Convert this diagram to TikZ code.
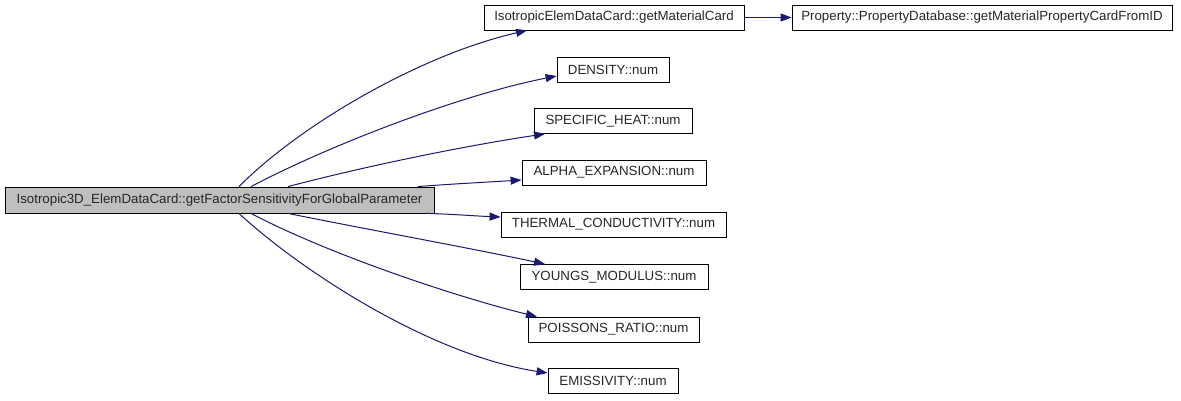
\documentclass[tikz,border=0pt]{standalone}
\usepackage{fontspec}
\setmainfont{Liberation Sans}
\usetikzlibrary{arrows.meta}
\definecolor{edgecol}{HTML}{191970}
\begin{document}
\begin{tikzpicture}[x=1pt,y=-1pt,
  box/.style={draw=black, line width=0.8pt, inner sep=0pt, minimum height=25pt, font=\fontsize{13.3}{15}\selectfont, text=black!85},
  mainbox/.style={box, fill=black!25, minimum height=26pt},
  edge/.style={draw=edgecol, line width=1pt, -{Triangle[length=11pt,width=8pt]}}]
\useasboundingbox (0,0) rectangle (1181,401);
\node[mainbox, minimum width=429pt] (main) at (219.5,200) {Isotropic3D\_ElemDataCard::getFactorSensitivityForGlobalParameter};
\node[box, minimum width=260pt] (mat) at (614,17.5) {IsotropicElemDataCard::getMaterialCard};
\node[box, minimum width=380pt] (prop) at (982,17.5) {Property::PropertyDatabase::getMaterialPropertyCardFromID};
\node[box, minimum width=112pt] (dens) at (613,69.5) {DENSITY::num};
\node[box, minimum width=158pt] (spec) at (613,121) {SPECIFIC\_HEAT::num};
\node[box, minimum width=184pt] (alpha) at (614,172.5) {ALPHA\_EXPANSION::num};
\node[box, minimum width=225pt] (therm) at (613.5,224.5) {THERMAL\_CONDUCTIVITY::num};
\node[box, minimum width=188pt] (young) at (614,277) {YOUNGS\_MODULUS::num};
\node[box, minimum width=171pt] (poiss) at (613.5,329.5) {POISSONS\_RATIO::num};
\node[box, minimum width=130pt] (emis) at (613,380.5) {EMISSIVITY::num};

\draw[edge] (mat.east) -- (prop.west);
\draw[edge] ([xshift=19.5pt]main.north) .. controls (300,125) and (420,55) .. ([xshift=-87pt]mat.south);
\draw[edge] ([xshift=31.5pt]main.north) .. controls (330,145) and (460,95) .. ([yshift=-6.5pt]dens.west);
\draw[edge] ([xshift=68.5pt]main.north) .. controls (370,165) and (470,145) .. ([xshift=-68pt]spec.south);
\draw[edge] ([xshift=198.5pt]main.north) .. controls (450,184) and (490,182) .. ([yshift=-7.5pt]alpha.west);
\draw[edge] ([xshift=207.5pt]main.south) .. controls (450,214) and (475,216) .. ([yshift=7.5pt]therm.west);
\draw[edge] ([xshift=68.5pt]main.south) .. controls (370,230) and (470,248) .. ([xshift=-69pt]young.north);
\draw[edge] ([xshift=31.5pt]main.south) .. controls (330,255) and (460,298) .. ([xshift=-76.5pt]poiss.north);
\draw[edge] ([xshift=19.5pt]main.south) .. controls (300,270) and (430,355) .. ([yshift=7.5pt]emis.west);
\end{tikzpicture}
\end{document}
